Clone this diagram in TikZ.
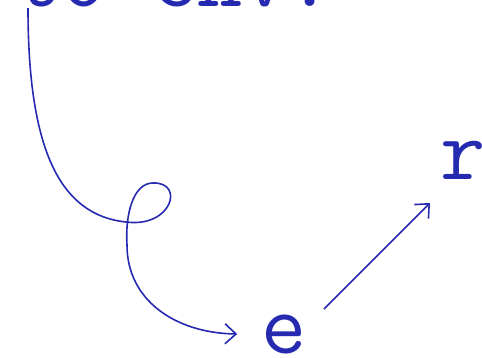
\documentclass[tikz,border=0pt]{standalone}
\usetikzlibrary{arrows.meta}
\definecolor{inkblue}{RGB}{38,42,176}
\tikzset{
  lbl/.style={inner sep=1pt, text=inkblue, font=\fontsize{88}{88}\selectfont\ttfamily},
  flow/.style={draw=inkblue, line width=1.6bp, -{Straight Barb[length=11bp,width=20bp]}}
}
\begin{document}
\begin{tikzpicture}[x=1bp,y=-1bp]
\useasboundingbox (0,0) rectangle (482,357);
% text cut at the top edge
\node[lbl, anchor=base east] (env) at (334,6) {as to env:};
\node[lbl] (e) at (284,334) {e};
\node[lbl] (r) at (463,160) {r};
\coordinate (s) at (28,8);
% looping arrow down to e
\draw[flow] (s) .. controls (28,150) and (60,215) .. (126,222)
  .. controls (172,228) and (185,182) .. (153,183)
  .. controls (133,183) and (125,215) .. (127,245)
  .. controls (127,300) and (175,333) .. ([xshift=-47]e.center);
\draw[flow] ([shift={(40,-25)}]e.center) -- ([shift={(-33,43)}]r.center);
\end{tikzpicture}
\end{document}
